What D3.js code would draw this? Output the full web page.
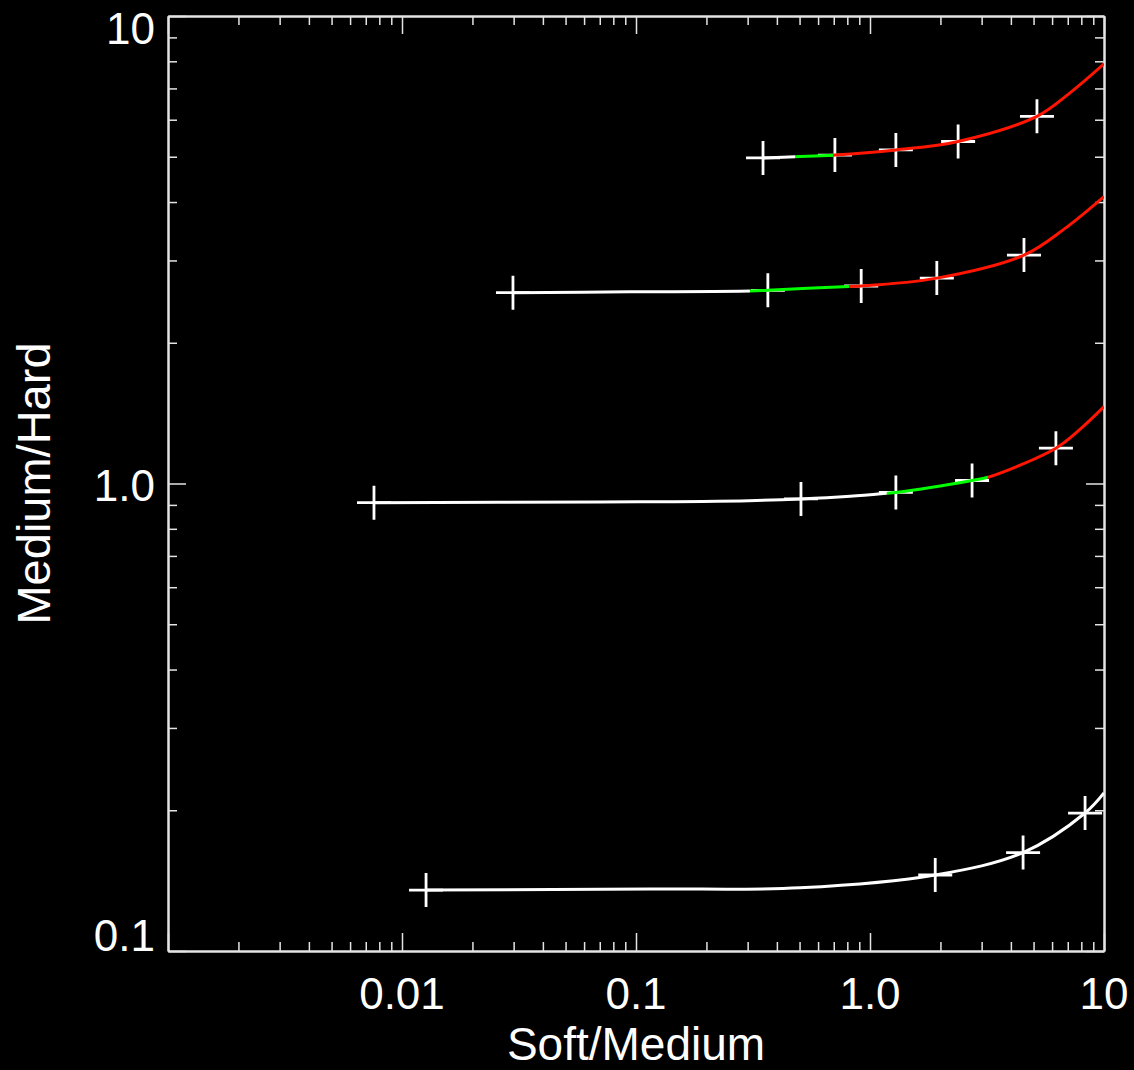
<!DOCTYPE html>
<html>
<head>
<meta charset="utf-8">
<script src="https://cdn.jsdelivr.net/npm/d3@7"></script>
<style>
  html, body { margin: 0; padding: 0; background: #000; }
  svg { display: block; }
  text { font-family: "Liberation Sans", Helvetica, Arial, sans-serif; fill: #fff; }
</style>
</head>
<body>
<div id="chart"></div>
<script>
// model tracks, [soft/medium, medium/hard]
const track1 = [[0.349,4.97],[0.478,5.00],[0.708,5.04],[1.29,5.17],[2.38,5.39],[5.17,6.10],[7.16,6.85],[10,7.90]];
const track2 = [[0.0298,2.56],[0.0942,2.57],[0.307,2.58],[0.366,2.59],[0.813,2.64],[0.917,2.645],[1.93,2.75],[4.55,3.08],[6.75,3.50],[10,4.11]];
const track3 = [[0.00759,0.910],[0.0702,0.913],[0.222,0.916],[0.507,0.927],[0.823,0.939],[1.18,0.953],[1.29,0.957],[2.73,1.015],[3.19,1.031],[6.23,1.19],[7.89,1.305],[10,1.46]];
const track4 = [[0.01267,0.135],[0.1148,0.1357],[0.502,0.1365],[1.90,0.1454],[4.51,0.1624],[8.30,0.1973],[10,0.2178]];

// plus markers
const cross1 = [[0.349,4.97],[0.708,5.04],[1.29,5.17],[2.38,5.39],[5.17,6.10]];
const cross2 = [[0.0298,2.56],[0.366,2.59],[0.917,2.645],[1.93,2.75],[4.55,3.08]];
const cross3 = [[0.00759,0.910],[0.507,0.927],[1.29,0.957],[2.73,1.015],[6.23,1.19]];
const cross4 = [[0.01267,0.135],[1.90,0.1454],[4.51,0.1624],[8.30,0.1973]];

// where each track turns green, then red (null = stays white)
const greenFrom = [0.478, 0.307, 1.18, null];
const redFrom   = [0.695, 0.813, 3.19, null];

const xTickValues = [0.01, 0.1, 1, 10];
const xTickLabels = ["0.01", "0.1", "1.0", "10"];
const yTickValues = [0.1, 1, 10];
const yTickLabels = ["0.1", "1.0", "10"];

const width = 1134, height = 1070;
const pLeft = 168, pRight = 1104, pTop = 16, pBottom = 951;
const axisColor = "#e4e4e4";

let svg = d3.select("#chart").append("svg")
    .attr("width", width)
    .attr("height", height)
    .style("background", "#000");

let x = d3.scaleLog().domain([0.001, 10]).range([pLeft, pRight]);
let y = d3.scaleLog().domain([0.1, 10]).range([pBottom, pTop]);

svg.append("clipPath").attr("id", "plotclip")
    .append("rect")
    .attr("x", pLeft).attr("y", pTop)
    .attr("width", pRight - pLeft).attr("height", pBottom - pTop);

// minor ticks = everything d3 gives that is not a decade
let isDecade = v => Math.abs(Math.log10(v) - Math.round(Math.log10(v))) < 1e-6;
let xMinor = x.ticks().filter(v => !isDecade(v));
let yMinor = y.ticks().filter(v => !isDecade(v));
let xMajor = x.ticks().filter(isDecade);
let yMajor = y.ticks().filter(isDecade);

function drawAxis(axisFn, scale, values, size, tx, ty) {
    let g = svg.append("g")
        .attr("transform", "translate(" + tx + "," + ty + ")")
        .call(axisFn(scale).tickValues(values).tickSize(size).tickSizeOuter(0).tickFormat(""));
    g.selectAll("line").attr("stroke", axisColor).attr("stroke-width", 1.5);
    g.select(".domain").attr("stroke", axisColor).attr("stroke-width", 2);
    return g;
}

// bottom / top
drawAxis(d3.axisBottom, x, xMinor, -9, 0, pBottom);
drawAxis(d3.axisBottom, x, xMajor, -18, 0, pBottom);
drawAxis(d3.axisTop, x, xMinor, -9, 0, pTop);
drawAxis(d3.axisTop, x, xMajor, -18, 0, pTop);
// left / right
drawAxis(d3.axisLeft, y, yMinor, -9, pLeft, 0);
drawAxis(d3.axisLeft, y, yMajor, -18, pLeft, 0);
drawAxis(d3.axisRight, y, yMinor, -9, pRight, 0);
drawAxis(d3.axisRight, y, yMajor, -18, pRight, 0);

// tick labels
svg.append("g").selectAll("text")
    .data(xTickValues)
    .join("text")
    .attr("x", d => x(d))
    .attr("y", 1009)
    .attr("text-anchor", "middle")
    .style("font-size", "44px")
    .text((d, i) => xTickLabels[i]);

svg.append("g").selectAll("text")
    .data(yTickValues)
    .join("text")
    .attr("x", 155)
    .attr("y", d => Math.max(44, Math.min(pBottom, y(d) + 17)))
    .attr("text-anchor", "end")
    .style("font-size", "44px")
    .text((d, i) => yTickLabels[i]);

// axis titles
svg.append("text")
    .attr("x", (pLeft + pRight) / 2)
    .attr("y", 1060)
    .attr("text-anchor", "middle")
    .style("font-size", "46px")
    .text("Soft/Medium");

svg.append("text")
    .attr("transform", "translate(50," + ((pTop + pBottom) / 2) + ") rotate(-90)")
    .attr("text-anchor", "middle")
    .style("font-size", "47px")
    .text("Medium/Hard");

let plot = svg.append("g").attr("clip-path", "url(#plotclip)");

// crosses
let crosses = [cross1, cross2, cross3, cross4];
crosses.forEach(function(pts) {
    let g = plot.append("g");
    pts.forEach(function(p) {
        let cx = x(p[0]), cy = y(p[1]);
        g.append("path")
            .attr("d", "M" + (cx - 17) + "," + cy + "H" + (cx + 17) + "M" + cx + "," + (cy - 17) + "V" + (cy + 17))
            .attr("stroke", "#fff")
            .attr("stroke-width", 2.8)
            .attr("fill", "none");
    });
});

// tracks, split in white / green / red pieces by clipping on x
let line = d3.line()
    .x(d => x(d[0]))
    .y(d => y(d[1]))
    .curve(d3.curveCatmullRom.alpha(0.5));

let tracks = [track1, track2, track3, track4];
tracks.forEach(function(pts, i) {
    let pieces = [];
    if (greenFrom[i] === null) {
        pieces.push({ x0: pLeft, x1: pRight, color: "#fff" });
    } else {
        pieces.push({ x0: pLeft, x1: x(greenFrom[i]), color: "#fff" });
        pieces.push({ x0: x(greenFrom[i]), x1: x(redFrom[i]), color: "#00ff00" });
        pieces.push({ x0: x(redFrom[i]), x1: pRight, color: "#ff1500" });
    }
    pieces.forEach(function(pc, j) {
        let id = "clip-" + i + "-" + j;
        svg.append("clipPath").attr("id", id)
            .append("rect")
            .attr("x", pc.x0).attr("y", pTop)
            .attr("width", pc.x1 - pc.x0).attr("height", pBottom - pTop);
        plot.append("g").attr("clip-path", "url(#" + id + ")")
            .append("path")
            .attr("d", line(pts))
            .attr("fill", "none")
            .attr("stroke", pc.color)
            .attr("stroke-width", 3);
    });
});
</script>
</body>
</html>
